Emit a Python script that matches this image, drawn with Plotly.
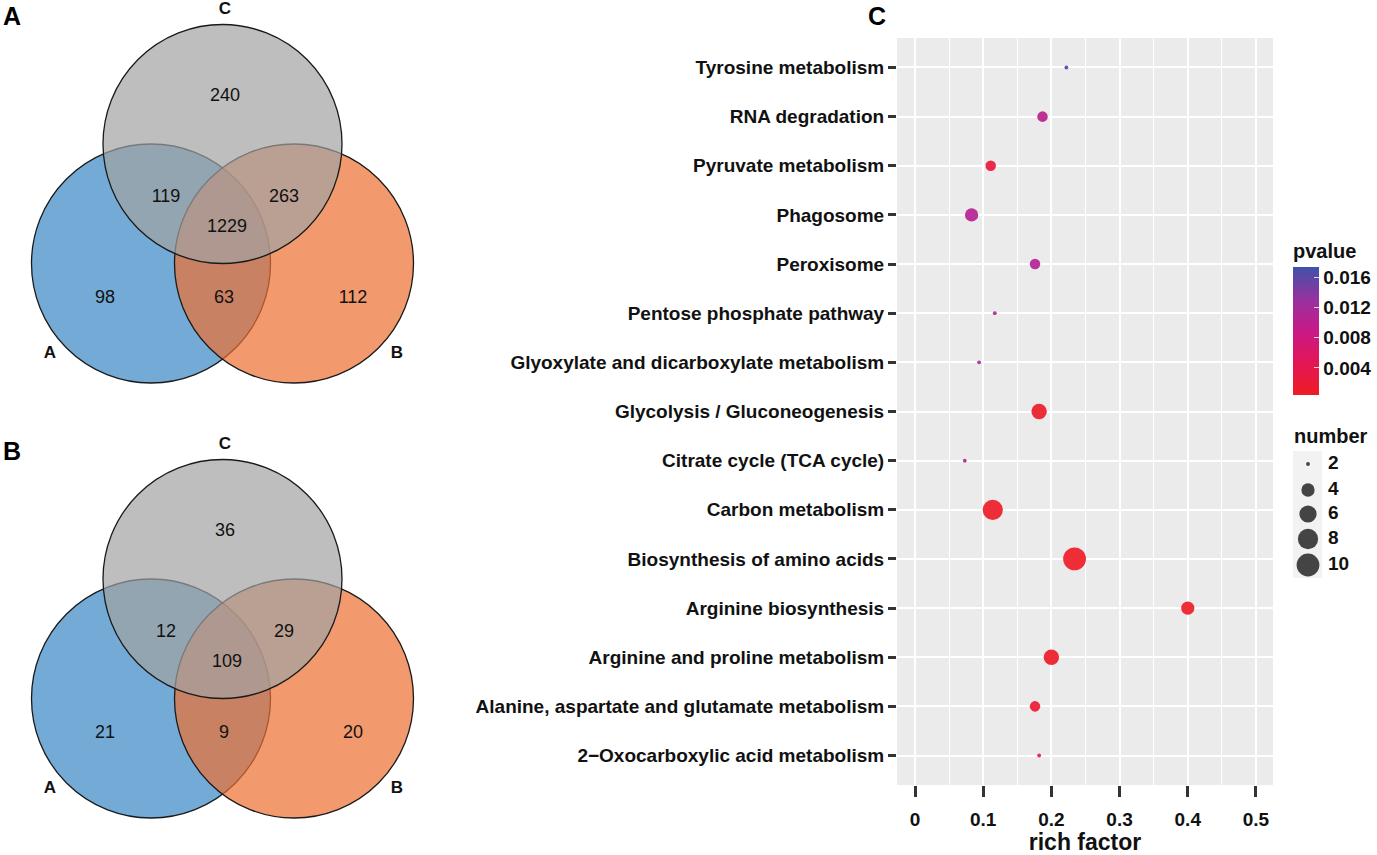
import numpy as np
import plotly.graph_objects as go

# ---------------- data ----------------
pathways = [
    "2\u2212Oxocarboxylic acid metabolism",
    "Alanine, aspartate and glutamate metabolism",
    "Arginine and proline metabolism",
    "Arginine biosynthesis",
    "Biosynthesis of amino acids",
    "Carbon metabolism",
    "Citrate cycle (TCA cycle)",
    "Glycolysis / Gluconeogenesis",
    "Glyoxylate and dicarboxylate metabolism",
    "Pentose phosphate pathway",
    "Peroxisome",
    "Phagosome",
    "Pyruvate metabolism",
    "RNA degradation",
    "Tyrosine metabolism",
]
rich_factor = [0.182, 0.176, 0.200, 0.400, 0.234, 0.114, 0.073, 0.182,
               0.094, 0.117, 0.176, 0.083, 0.111, 0.187, 0.222]
gene_number = [2, 3, 5, 4, 10, 8, 2, 5, 2, 2, 3, 4, 3, 3, 2]
pvalue = [0.0045, 0.0018, 0.0008, 0.0006, 0.0006, 0.0007, 0.0120, 0.0009,
          0.0118, 0.0118, 0.0108, 0.0104, 0.0022, 0.0100, 0.0165]

size_legend_values = [2, 4, 6, 8, 10]
pvalue_ticks = [0.004, 0.008, 0.012, 0.016]
xticks = [0, 0.1, 0.2, 0.3, 0.4, 0.5]

set_names = ["A", "B", "C"]
# region order: only A, only B, only C, A&C, B&C, A&B, A&B&C
venn_A_counts = [98, 112, 240, 119, 263, 63, 1229]
venn_B_counts = [21, 20, 36, 12, 29, 9, 109]

FONT = "Liberation Sans, Arial, sans-serif"
W, H = 1377, 855

# size scale like ggplot area palette
def diam(n):
    n = np.asarray(n, dtype=float)
    r = (n - 2) / 8.0
    return 3.8 * (1 + 5 * np.sqrt(r))

colorscale = [
    [0.0, "rgb(238,28,36)"],
    [0.25, "rgb(228,22,85)"],
    [0.5, "rgb(200,25,135)"],
    [0.75, "rgb(150,50,160)"],
    [1.0, "rgb(62,82,168)"],
]

fig = go.Figure()

# ---------------- bubble plot (panel C) ----------------
fig.add_trace(go.Scatter(
    x=rich_factor, y=pathways, mode="markers",
    marker=dict(
        size=diam(gene_number), sizemode="diameter",
        color=pvalue, colorscale=colorscale, cmin=0.0004, cmax=0.0174,
        opacity=0.92, line=dict(width=0),
        showscale=True,
        colorbar=dict(
            title=dict(text="<b>pvalue</b>", side="top",
                       font=dict(family=FONT, size=20, color="#111")),
            x=1293 / W, xanchor="left", xpad=0,
            y=1 - 395 / H, yanchor="bottom", ypad=0,
            len=155, lenmode="pixels", thickness=26,
            outlinewidth=0,
            tickvals=pvalue_ticks,
            ticktext=["<b>%.3f</b>" % v for v in pvalue_ticks],
            ticks="inside", tickcolor="rgba(255,255,255,0.8)", ticklen=5,
            tickfont=dict(family=FONT, size=19, color="#111"),
        ),
    ),
    showlegend=False, hoverinfo="skip",
    xaxis="x", yaxis="y",
))

# ---------------- pixel-space overlay (venns + size legend) ----------------
r = 119.5
centers = {"A": (151, 263.5), "B": (294, 263.5), "C": (222.5, 144)}
fills = {"A": "rgba(56,135,196,0.7)", "B": "rgba(236,111,48,0.7)",
         "C": "rgba(162,162,162,0.7)"}
label_pos = {"A": (50, 354), "B": (397, 354), "C": (225, 10)}
region_pos = [(105, 298), (353, 298), (225, 96), (166, 197), (284, 197),
              (224, 298), (227, 227)]

shapes = []
# panel C gray background
shapes.append(dict(type="rect", xref="x domain", yref="y domain",
                    x0=0, x1=1, y0=0, y1=1, fillcolor="#EBEBEB",
                    line=dict(width=0), layer="below"))

annotations = []
for panel_idx, (counts, tag) in enumerate([(venn_A_counts, "A"), (venn_B_counts, "B")]):
    oy = 435 * panel_idx
    for s in set_names:
        cx, cy = centers[s]
        shapes.append(dict(type="circle", xref="x2", yref="y2",
                           x0=cx - r, x1=cx + r, y0=cy + oy - r, y1=cy + oy + r,
                           fillcolor=fills[s], line=dict(color="#1a1a1a", width=1.3),
                           layer="below"))
    fig.add_trace(go.Scatter(
        x=[p[0] for p in region_pos], y=[p[1] + oy for p in region_pos],
        text=[str(c) for c in counts], mode="text",
        textfont=dict(family=FONT, size=18, color="#111"),
        showlegend=False, hoverinfo="skip", xaxis="x2", yaxis="y2"))
    fig.add_trace(go.Scatter(
        x=[label_pos[s][0] for s in set_names],
        y=[label_pos[s][1] + oy for s in set_names],
        text=["<b>%s</b>" % s for s in set_names], mode="text",
        textfont=dict(family=FONT, size=17, color="#111"),
        showlegend=False, hoverinfo="skip", xaxis="x2", yaxis="y2"))
    annotations.append(dict(text="<b>%s</b>" % tag, x=1, y=16 + oy, xref="x2", yref="y2",
                            xanchor="left", yanchor="middle", showarrow=False,
                            font=dict(family=FONT, size=25, color="#000")))

annotations.append(dict(text="<b>C</b>", x=866, y=16, xref="x2", yref="y2",
                        xanchor="left", yanchor="middle", showarrow=False,
                        font=dict(family=FONT, size=25, color="#000")))

# size legend
shapes.append(dict(type="rect", xref="x2", yref="y2", x0=1293, x1=1322, y0=451, y1=578,
                   fillcolor="#F2F2F2", line=dict(width=0), layer="below"))
leg_y = [464, 490, 514, 539, 565]
fig.add_trace(go.Scatter(
    x=[1308] * len(size_legend_values), y=leg_y, mode="markers",
    marker=dict(size=diam(size_legend_values), sizemode="diameter", color="#444444",
                opacity=1, line=dict(width=0)),
    showlegend=False, hoverinfo="skip", xaxis="x2", yaxis="y2"))
fig.add_trace(go.Scatter(
    x=[1328] * len(size_legend_values), y=leg_y, mode="text",
    text=["<b>%d</b>" % v for v in size_legend_values], textposition="middle right",
    textfont=dict(family=FONT, size=19, color="#111"),
    showlegend=False, hoverinfo="skip", xaxis="x2", yaxis="y2"))
annotations.append(dict(text="<b>number</b>", x=1292, y=436, xref="x2", yref="y2",
                        xanchor="left", yanchor="middle", showarrow=False,
                        font=dict(family=FONT, size=20, color="#111")))

fig.update_layout(
    width=W, height=H,
    margin=dict(l=0, r=0, t=0, b=0, autoexpand=False),
    paper_bgcolor="white", plot_bgcolor="rgba(0,0,0,0)",
    font=dict(family=FONT, color="#111"),
    shapes=shapes, annotations=annotations,
    xaxis=dict(
        domain=[897 / W, 1273 / W], range=[-0.0264, 0.525],
        tickvals=xticks, ticktext=["<b>%g</b>" % v for v in xticks],
        ticks="outside", ticklen=11, tickwidth=2.5, tickcolor="#333",
        ticklabelstandoff=6,
        tickfont=dict(family=FONT, size=19, color="#111"),
        showgrid=True, gridcolor="white", gridwidth=1.6,
        minor=dict(dtick=0.05, tick0=0, showgrid=True, gridcolor="white", gridwidth=0.7),
        zeroline=False, showline=False, automargin=False,
        title=dict(text="<b>rich factor</b>", font=dict(family=FONT, size=23, color="#111"),
                   standoff=6),
        anchor="y",
    ),
    yaxis=dict(
        domain=[1 - 785 / H, 1 - 38 / H],
        type="category", categoryorder="array", categoryarray=pathways,
        range=[-0.6, len(pathways) - 0.4],
        ticks="outside", ticklen=8, tickwidth=2.5, tickcolor="#333",
        tickfont=dict(family=FONT, size=19, color="#111"),
        tickprefix="<b>", ticksuffix="</b>",
        showgrid=True, gridcolor="white", gridwidth=1.6,
        zeroline=False, showline=False, automargin=False,
        anchor="x",
    ),
    xaxis2=dict(domain=[0, 1], range=[0, W], visible=False, anchor="y2", fixedrange=True),
    yaxis2=dict(domain=[0, 1], range=[H, 0], visible=False, anchor="x2", fixedrange=True),
)

fig.write_html(
    "out.html",
    config={"displayModeBar": False},
    post_script="document.body.style.margin='0';document.body.style.overflow='hidden';",
)
